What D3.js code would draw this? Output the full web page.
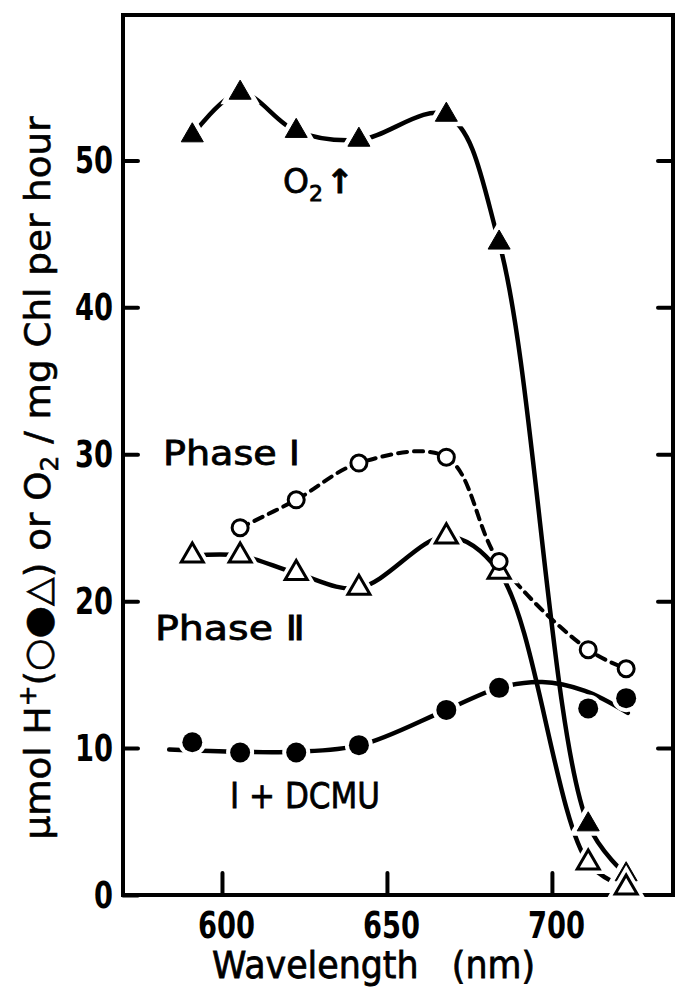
<!DOCTYPE html>
<html><head><meta charset="utf-8">
<script src="https://cdn.jsdelivr.net/npm/d3@7"></script>
<style>body{margin:0;background:#fff}svg{display:block}</style>
</head><body>
<svg id="c" width="676" height="988"></svg>
<script>
// ---- data ----
const wavelengths   = [591, 605.5, 622.5, 641.5, 668, 684, 711, 722.5];
const o2Values      = [51.7, 54.6, 52.0, 51.4, 53.1, 44.4, 4.8, 1.4];
const phaseIValues  = [null, 25.0, 26.9, 29.4, 29.8, 22.7, 16.7, 15.4];
const phaseIIValues = [23.1, 23.1, 21.9, 20.9, 24.4, 22.0, 2.2, 0.5];
const dcmuValues    = [10.4, 9.7, 9.7, 10.2, 12.6, 14.1, 12.7, 13.4];
// hand-fitted curve for I + DCMU (does not pass through every point)
const dcmuCurveX = [584, 605, 622, 642, 668, 684, 697, 710, 723];
const dcmuCurveY = [9.9, 9.75, 9.75, 10.2, 12.6, 14.1, 14.5, 13.9, 12.4];
const xTicks = [600, 650, 700];
const yTicks = [0, 10, 20, 30, 40, 50];
const xTitle = "Wavelength   (nm)";

const svg = d3.select("#c");
const FONT = "'DejaVu Sans', sans-serif";
const x = d3.scaleLinear().domain([570, 736.7]).range([123, 673]);
const y = d3.scaleLinear().domain([0, 59.9]).range([895, 15]);

// axes
const gl = svg.append("g").attr("transform", `translate(${x.range()[0]},0)`)
  .call(d3.axisLeft(y).tickValues(yTicks).tickSize(-15).tickPadding(10));
const gr = svg.append("g").attr("transform", `translate(${x.range()[1]},0)`)
  .call(d3.axisRight(y).tickValues(yTicks.filter(d => d > 0)).tickSize(-15).tickFormat(""));
const gb = svg.append("g").attr("transform", `translate(0,${y.range()[0]})`)
  .call(d3.axisBottom(x).tickValues(xTicks).tickSize(-22).tickPadding(16));
[gl, gr, gb].forEach(g => {
  g.select(".domain").remove();
  g.selectAll(".tick line").attr("stroke", "#000").attr("stroke-width", 4).attr("stroke-linecap", "round");
  g.selectAll(".tick text").attr("font-family", FONT).attr("font-weight", "bold")
    .attr("font-size", 38).attr("fill", "#000")
    .attr("lengthAdjust", "spacingAndGlyphs")
    .attr("textLength", function(d){ return String(d).length * 19; });
});
gb.selectAll(".tick text").attr("dx", 4);

// frame
svg.append("rect").attr("x", x.range()[0]).attr("y", y.range()[1])
  .attr("width", x.range()[1] - x.range()[0]).attr("height", y.range()[0] - y.range()[1])
  .attr("fill", "none").attr("stroke", "#000").attr("stroke-width", 4);

// series
const pts = vals => wavelengths.map((w, i) => ({w, v: vals[i]})).filter(d => d.v != null);
const line = d3.line().x(d => x(d.w)).y(d => y(d.v)).curve(d3.curveCatmullRom.alpha(0.5));
const plot = svg.append("g");

plot.append("path").attr("d", line(pts(o2Values)))
  .attr("fill", "none").attr("stroke", "#000").attr("stroke-width", 4.5).attr("stroke-linecap", "round");
plot.append("path").attr("d", line(pts(phaseIIValues)))
  .attr("fill", "none").attr("stroke", "#000").attr("stroke-width", 4.5).attr("stroke-linecap", "round");
plot.append("path").attr("d", line(pts(phaseIValues)))
  .attr("fill", "none").attr("stroke", "#000").attr("stroke-width", 4)
  .attr("stroke-dasharray", "9,7").attr("stroke-linecap", "round");
plot.append("path").attr("d", line(dcmuCurveX.map((w, i) => ({w, v: dcmuCurveY[i]}))))
  .attr("fill", "none").attr("stroke", "#000").attr("stroke-width", 4.5).attr("stroke-linecap", "round");

const tri = d3.symbol().type(d3.symbolTriangle).size(210)();
function markers(vals, kind, halo) {
  const data = pts(vals);
  const g = plot.append("g");
  const sel = g.selectAll("g").data(data).join("g")
    .attr("transform", d => `translate(${x(d.w)},${y(d.v)})`);
  if (kind === "tri" || kind === "otri") {
    if (halo) sel.append("path").attr("d", tri).attr("fill", "#fff").attr("stroke", "#fff").attr("stroke-width", 10);
    sel.append("path").attr("d", tri)
      .attr("fill", kind === "tri" ? "#000" : "#fff")
      .attr("stroke", "#000").attr("stroke-width", kind === "tri" ? 1 : 3).attr("stroke-linejoin", "miter");
  } else {
    const r = kind === "dot" ? 10 : 8;
    if (halo) sel.append("circle").attr("r", r + 4).attr("fill", "#fff");
    sel.append("circle").attr("r", r)
      .attr("fill", kind === "dot" ? "#000" : "#fff")
      .attr("stroke", "#000").attr("stroke-width", kind === "dot" ? 0 : 3);
  }
}
markers(o2Values, "tri", true);
markers(phaseIIValues, "otri", true);
markers(dcmuValues, "dot", true);
markers(phaseIValues, "circ", false);

// labels
function label(px, py, size, len) {
  const t = svg.append("text").attr("x", px).attr("y", py)
    .attr("font-family", FONT).attr("font-size", size).attr("fill", "#000")
    .attr("stroke", "#000").attr("stroke-width", 0.8);
  if (len) t.attr("textLength", len).attr("lengthAdjust", "spacingAndGlyphs");
  return t;
}
const lo2 = label(283, 193, 33, null);
lo2.append("tspan").text("O");
lo2.append("tspan").attr("font-size", 22).attr("dy", 8).text("2");
lo2.append("tspan").attr("dy", -8).attr("dx", 3).attr("font-weight", "bold").text("↑");
label(163, 465, 34, 137).text("Phase Ⅰ");
label(155, 640, 34, 150).text("Phase Ⅱ");
label(230, 808, 36, 150).text("Ⅰ + DCMU");

// x title
label(212, 978, 38, 323).style("white-space", "pre").attr("xml:space", "preserve").text(xTitle);

// y title
const yt = svg.append("text")
  .attr("transform", "translate(50,478) rotate(-90)")
  .attr("text-anchor", "middle")
  .attr("font-family", FONT).attr("font-size", 36).attr("fill", "#000")
  .attr("stroke", "#000").attr("stroke-width", 0.6)
  .attr("textLength", 723).attr("lengthAdjust", "spacingAndGlyphs");
yt.append("tspan").text("μmol H");
yt.append("tspan").attr("font-size", 24).attr("dy", -14).text("+");
yt.append("tspan").attr("dy", 14).text("(○●△) or O");
yt.append("tspan").attr("font-size", 24).attr("dy", 8).text("2");
yt.append("tspan").attr("dy", -8).text(" / mg Chl per hour");
</script>
</body></html>
